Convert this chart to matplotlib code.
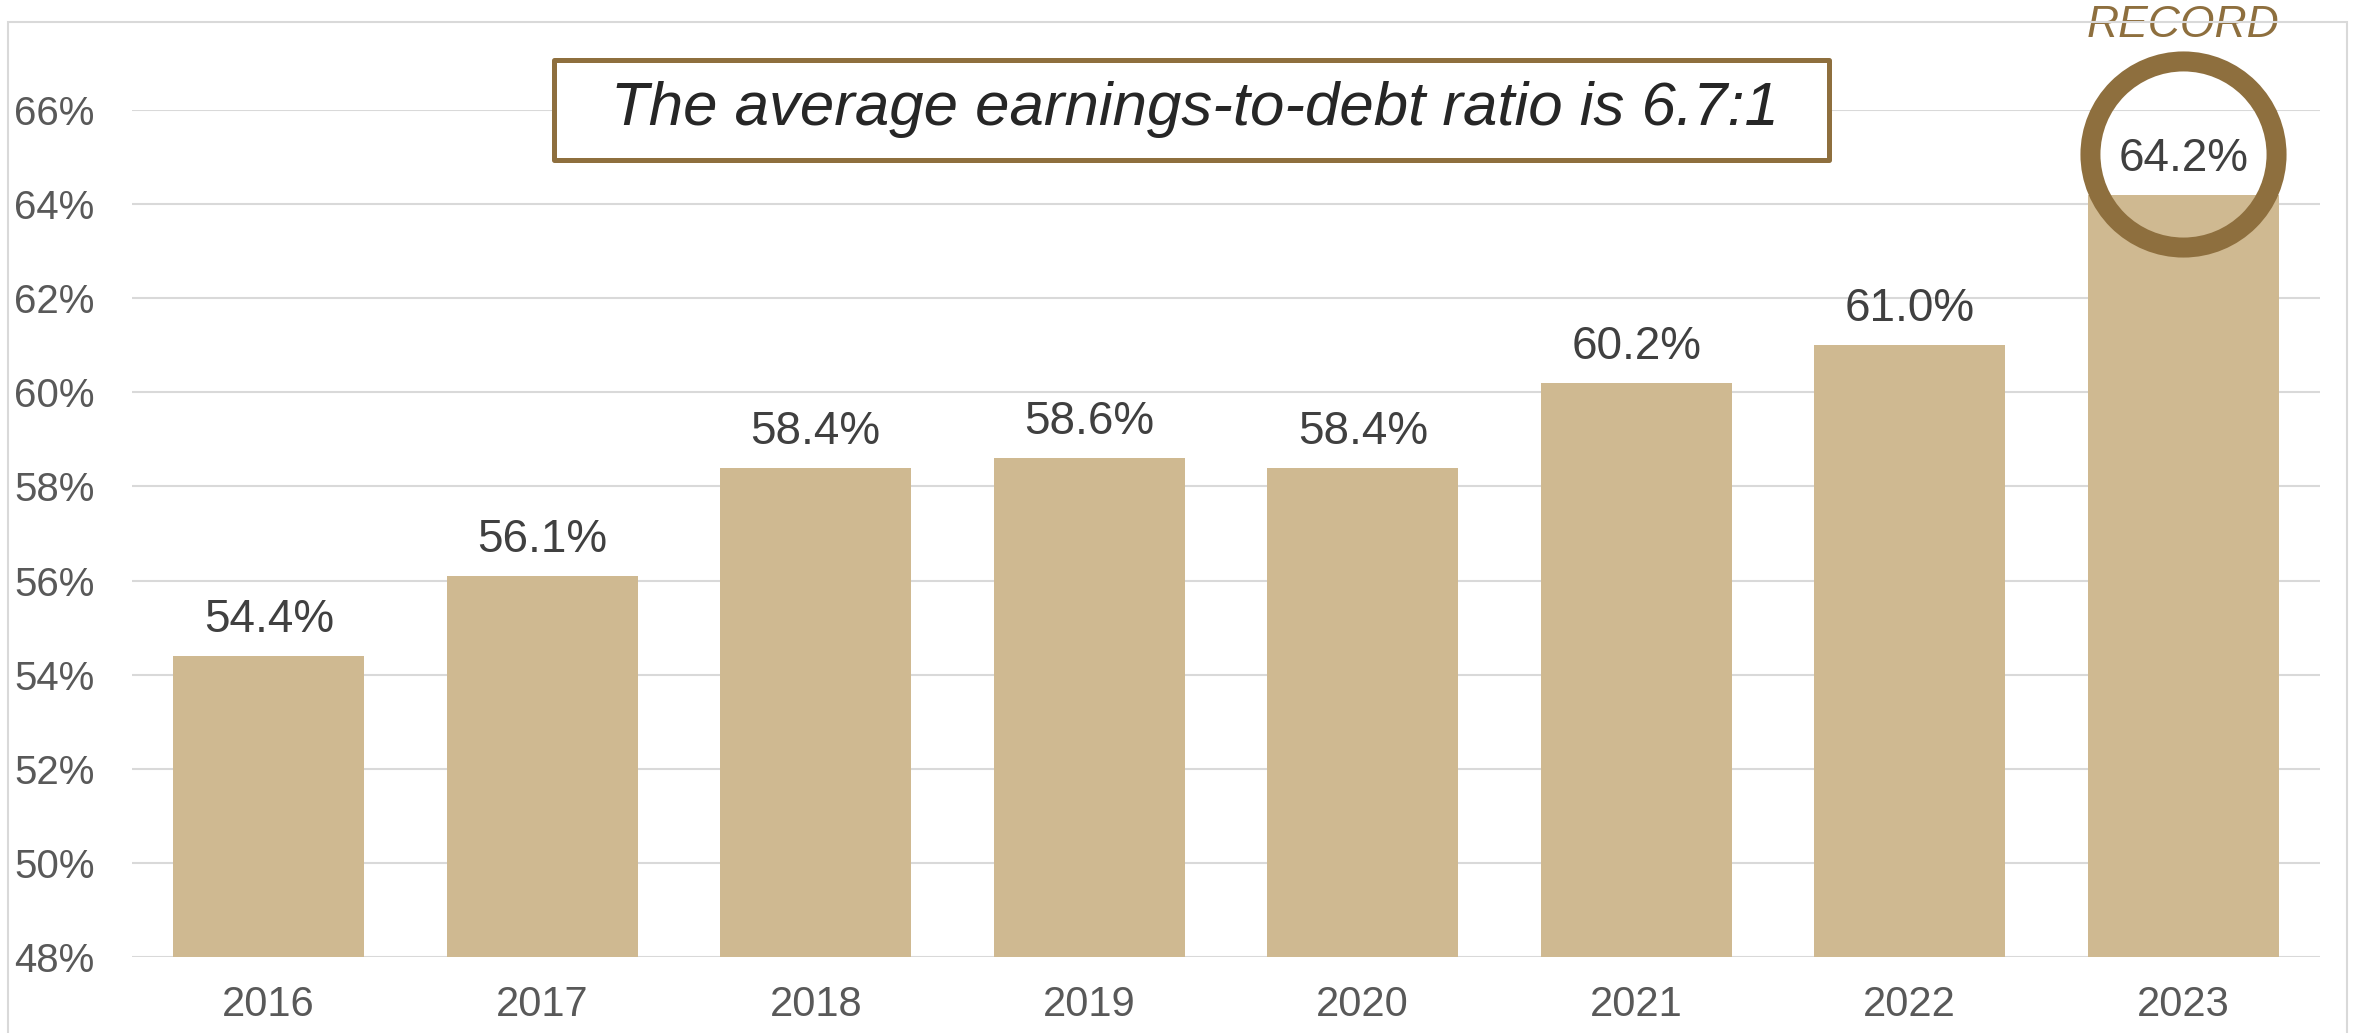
import matplotlib
matplotlib.use("Agg")
import matplotlib.pyplot as plt
from matplotlib.patches import Rectangle
from matplotlib import transforms

years = ["2016", "2017", "2018", "2019", "2020", "2021", "2022", "2023"]
share = [54.4, 56.1, 58.4, 58.6, 58.4, 60.2, 61.0, 64.2]
yticks = [48, 50, 52, 54, 56, 58, 60, 62, 64, 66]
headline = "The average earnings-to-debt ratio is 6.7:1"
record_label = "RECORD"

gold = "#CFB991"
brown = "#8E6F3E"
grid_grey = "#D9D9D9"

W, H = 2361, 1033
plt.rcParams["font.family"] = ["Liberation Sans", "DejaVu Sans"]

fig = plt.figure(figsize=(W / 100, H / 100), dpi=100)
# plot area in pixels: x 132..2320, y 110..957 (from top)
ax = fig.add_axes([132 / W, (H - 957) / H, (2320 - 132) / W, (957 - 110) / H])

xs = list(range(len(years)))
bars = ax.bar(xs, share, width=0.7, color=gold, zorder=2)
ax.bar_label(bars, labels=[f"{v:.1f}%" for v in share], padding=10,
             fontsize=33, color="#404040")

ax.set_xlim(-0.5, len(years) - 0.5)
ax.set_ylim(48, 66)
ax.set_yticks(yticks, labels=[f"{t}%" for t in yticks])
ax.set_xticks(xs, labels=years)
ax.tick_params(axis="y", length=0, pad=27, labelsize=29, labelcolor="#595959")
ax.tick_params(axis="x", length=0, pad=20, labelsize=30, labelcolor="#595959")
ax.grid(axis="y", color=grid_grey, linewidth=1.5, zorder=0)
ax.set_axisbelow(True)
for s in ax.spines.values():
    s.set_visible(False)

# record circle around the last bar's label
last = len(years) - 1
circ_tr = transforms.offset_copy(ax.transData, fig=fig, x=0, y=29.5, units="points")
ax.plot([last], [share[last]], marker="o", markersize=134, markerfacecolor="none",
        markeredgecolor=brown, markeredgewidth=14.4, transform=circ_tr,
        clip_on=False, zorder=5)
ax.annotate(record_label, (last, share[last]), xytext=(0, 122), textcoords="offset points",
            ha="center", va="center", fontsize=32, style="italic", color=brown,
            annotation_clip=False)

# headline box
box = Rectangle((554 / W, (H - 160) / H), (1829 - 554) / W, 100 / H, transform=fig.transFigure,
                facecolor="white", edgecolor=brown, linewidth=3.6, joinstyle="round", zorder=4)
fig.add_artist(box)
fig.text(1195 / W, (H - 110) / H, headline, ha="center", va="center", fontsize=44.5,
         style="italic", color="#262626", zorder=5)

# chart-area border
frame = Rectangle((8 / W, -0.1), (2347 - 8) / W, (H - 22) / H + 0.1, transform=fig.transFigure,
                  fill=False, edgecolor=grid_grey, linewidth=1.5)
fig.add_artist(frame)

fig.savefig("out.png", dpi=100, facecolor="white")
